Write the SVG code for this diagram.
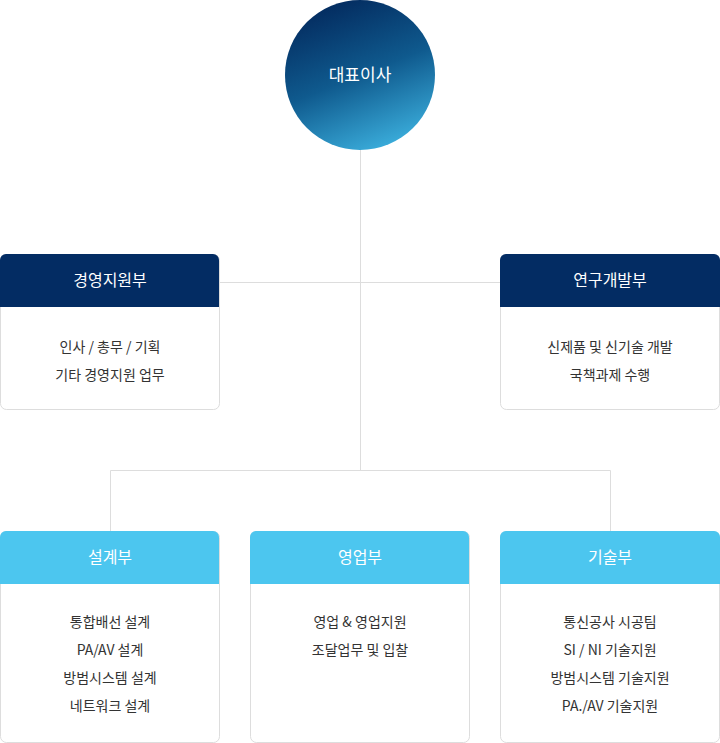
<svg xmlns="http://www.w3.org/2000/svg" width="720" height="743" viewBox="0 0 720 743">
<defs>
<linearGradient id="g" x1="0.3" y1="0" x2="0.7" y2="1">
<stop offset="0" stop-color="#032a5e"/><stop offset="0.5" stop-color="#0f5a8e"/><stop offset="1" stop-color="#3cb0de"/>
</linearGradient>
<style>
text{font-family:"Noto Sans CJK KR","Noto Sans",sans-serif;text-anchor:middle}
.h{fill:#fff;font-size:16px}
.b{fill:#333;font-size:14px}
.card{fill:#fff;stroke:#ddd;stroke-width:1}
.dk{fill:#032c63}
.lt{fill:#4cc6ef}
.ln{stroke:#ddd;stroke-width:1;fill:none}
</style>
</defs>
<g id="connectors">
<path class="ln" d="M360.5 150V470M219 282.5H500M110.5 531V470.5H610.5V531"/>
</g>
<g id="ceo"><circle cx="360" cy="75" r="75" fill="url(#g)"/><text class="h" x="360" y="81" style="font-size:17px">대표이사</text></g>
<g id="n1"><rect class="card" x="0.5" y="254.5" width="219" height="155" rx="6"/><path class="dk" d="M6 254H213a6 6 0 0 1 6 6V307H0V260a6 6 0 0 1 6-6z"/><text class="h" x="110" y="286">경영지원부</text><text class="b" x="110" y="352">인사 / 총무 / 기획</text><text class="b" x="110" y="380">기타 경영지원 업무</text></g>
<g id="n2"><rect class="card" x="500.5" y="254.5" width="219" height="155" rx="6"/><path class="dk" d="M506 254H714a6 6 0 0 1 6 6V307H500V260a6 6 0 0 1 6-6z"/><text class="h" x="610" y="286">연구개발부</text><text class="b" x="610" y="352">신제품 및 신기술 개발</text><text class="b" x="610" y="380">국책과제 수행</text></g>
<g id="n3"><rect class="card" x="0.5" y="531.5" width="219" height="211" rx="6"/><path class="lt" d="M6 531H213a6 6 0 0 1 6 6V584H0V537a6 6 0 0 1 6-6z"/><text class="h" x="110" y="563">설계부</text><text class="b" x="110" y="627">통합배선 설계</text><text class="b" x="110" y="655">PA/AV 설계</text><text class="b" x="110" y="683">방범시스템 설계</text><text class="b" x="110" y="711">네트워크 설계</text></g>
<g id="n4"><rect class="card" x="250.5" y="531.5" width="219" height="211" rx="6"/><path class="lt" d="M256 531H463a6 6 0 0 1 6 6V584H250V537a6 6 0 0 1 6-6z"/><text class="h" x="360" y="563">영업부</text><text class="b" x="360" y="627">영업 &amp; 영업지원</text><text class="b" x="360" y="655">조달업무 및 입찰</text></g>
<g id="n5"><rect class="card" x="500.5" y="531.5" width="219" height="211" rx="6"/><path class="lt" d="M506 531H714a6 6 0 0 1 6 6V584H500V537a6 6 0 0 1 6-6z"/><text class="h" x="610" y="563">기술부</text><text class="b" x="610" y="627">통신공사 시공팀</text><text class="b" x="610" y="655">SI / NI 기술지원</text><text class="b" x="610" y="683">방범시스템 기술지원</text><text class="b" x="610" y="711">PA./AV 기술지원</text></g>
</svg>
